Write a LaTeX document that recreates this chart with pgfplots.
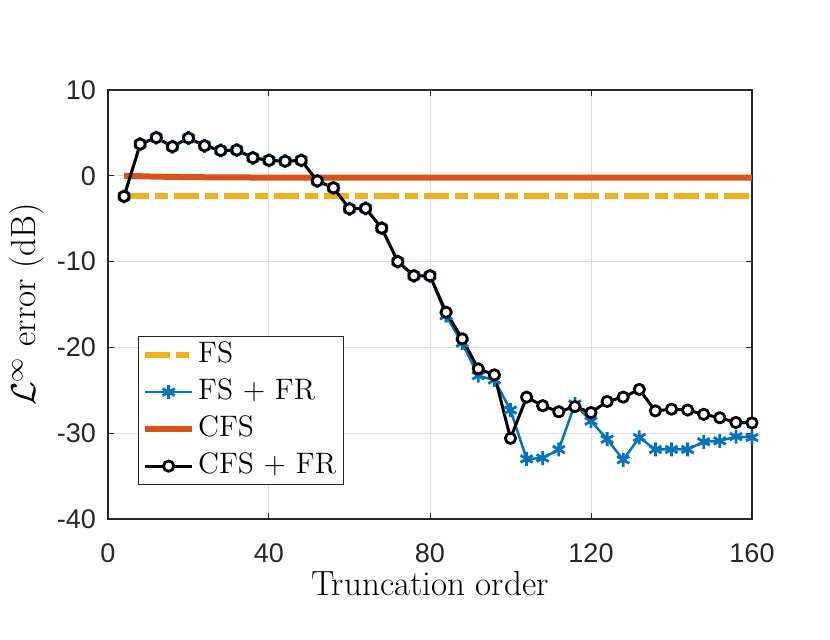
\documentclass[border=0pt]{standalone}
\usepackage{pgfplots}
\pgfplotsset{compat=1.18}
\usepackage{fontspec}
\newfontfamily\tickfont{Liberation Sans}
\definecolor{mblue}{rgb}{0,0.447,0.741}
\definecolor{morange}{rgb}{0.85,0.325,0.098}
\definecolor{myellow}{rgb}{0.929,0.694,0.125}
\definecolor{maxis}{rgb}{0.15,0.15,0.15}
\definecolor{mgrid}{rgb}{0.875,0.875,0.875}
\begin{document}
\begin{tikzpicture}
\begin{axis}[
  name=ax,
  scale only axis,
  width=322pt, height=214.5pt,
  xmin=0, xmax=160, ymin=-40, ymax=10,
  xtick={0,40,80,120,160},
  xticklabels={0,40,80,120,160},
  ytick={-40,-30,-20,-10,0,10},
  yticklabels={-40,-30,-20,-10,0,10},
  tick align=inside,
  major tick length=3.2pt,
  tick style={color=maxis, line width=0.5pt},
  axis line style={color=maxis, line width=0.6pt},
  grid=major,
  major grid style={color=mgrid, line width=0.5pt},
  ticklabel style={font=\tickfont\fontsize{13.5}{16}\selectfont, color=maxis},
  xticklabel style={yshift=-9pt},
  yticklabel style={xshift=-2.5pt},
  xlabel={Truncation order},
  ylabel={$\mathcal{L}^\infty$ error (dB)},
  label style={font=\fontsize{17.5}{21}\selectfont},
  xlabel style={at={(axis description cs:0.5,-0.179)}, anchor=base},
  ylabel style={at={(axis description cs:-0.113,0.5)}, anchor=base},
  legend style={at={(rel axis cs:0.046,0.079)}, anchor=south west,
    draw=maxis, line width=0.5pt, fill=white,
    font=\fontsize{14.8}{17}\selectfont,
    nodes={inner xsep=1.5pt, inner ysep=0pt, text height=11pt, text depth=3.5pt},
    row sep=4pt, inner sep=2pt},
  legend cell align=left,
  legend image code/.code={\draw[mark repeat=2,mark phase=2,#1] plot coordinates {(0pt,0pt) (11.75pt,0pt) (23.5pt,0pt)};},
  every axis plot/.append style={line join=round},
]
\addplot[myellow, line width=3pt, dash pattern=on 12.5pt off 3pt on 6.5pt off 3pt] coordinates {(4,-2.35) (160,-2.35)};
\addlegendentry{FS}
\addplot[mblue, line width=1.25pt, mark=asterisk, mark size=3.5pt, mark options={line width=1.4pt}] coordinates {
(4,-2.4) (8,3.7) (12,4.45) (16,3.4) (20,4.4) (24,3.5) (28,2.95) (32,3.0) (36,2.1) (40,1.8)
(44,1.7) (48,1.8) (52,-0.6) (56,-1.4) (60,-3.85) (64,-3.8) (68,-6.1) (72,-10.0) (76,-11.65) (80,-11.65)
(84,-16.3) (88,-19.5) (92,-23.3) (96,-23.8) (100,-27.3) (104,-33.0) (108,-32.9) (112,-31.9) (116,-26.6) (120,-28.6)
(124,-30.7) (128,-33.1) (132,-30.5) (136,-31.9) (140,-31.9) (144,-31.9) (148,-31.0) (152,-30.9) (156,-30.4) (160,-30.5)};
\addlegendentry{FS + FR}
\addplot[morange, line width=3pt] coordinates {
(4,0.0) (8,-0.05) (12,-0.1) (16,-0.13) (20,-0.15) (24,-0.17) (28,-0.18) (32,-0.19) (36,-0.2) (40,-0.2)
(60,-0.21) (80,-0.22) (100,-0.22) (120,-0.22) (140,-0.22) (160,-0.22)};
\addlegendentry{CFS}
\addplot[black, line width=1.5pt, mark=*, mark size=2.6pt, mark options={fill=white, draw=black, line width=1.4pt}] coordinates {
(4,-2.4) (8,3.7) (12,4.45) (16,3.4) (20,4.4) (24,3.5) (28,2.95) (32,3.0) (36,2.1) (40,1.8)
(44,1.7) (48,1.8) (52,-0.6) (56,-1.4) (60,-3.85) (64,-3.8) (68,-6.1) (72,-10.0) (76,-11.65) (80,-11.65)
(84,-15.9) (88,-19.0) (92,-22.5) (96,-23.2) (100,-30.6) (104,-25.8) (108,-26.8) (112,-27.5) (116,-26.9) (120,-27.6)
(124,-26.3) (128,-25.8) (132,-24.9) (136,-27.4) (140,-27.2) (144,-27.3) (148,-27.8) (152,-28.2) (156,-28.75) (160,-28.8)};
\addlegendentry{CFS + FR}
\end{axis}
\pgfresetboundingbox
\path ([xshift=-54pt,yshift=-60.5pt]ax.south west) rectangle ([xshift=39pt,yshift=45pt]ax.north east);
\end{tikzpicture}
\end{document}
